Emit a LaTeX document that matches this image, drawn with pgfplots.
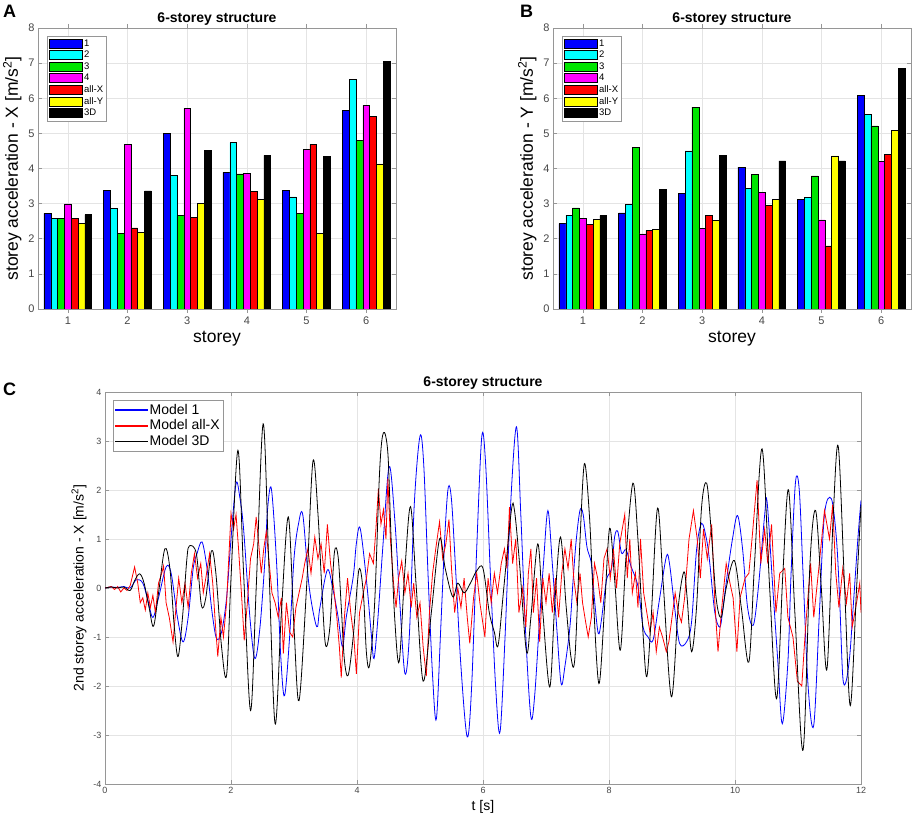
\documentclass[border=0pt]{standalone}
\usepackage{fontspec}
\setmainfont{Liberation Sans}
\usepackage{pgfplots}
\usepackage{pgfplotstable}
\pgfplotsset{compat=1.18}
\definecolor{tickgray}{RGB}{70,70,70}
\definecolor{boxgray}{RGB}{150,150,150}
\definecolor{gridgray}{RGB}{228,228,228}
\definecolor{mblue}{RGB}{0,0,255}
\definecolor{mcyan}{RGB}{0,255,255}
\definecolor{mgreen}{RGB}{0,230,0}
\definecolor{mmagenta}{RGB}{255,0,255}
\definecolor{mred}{RGB}{255,0,0}
\definecolor{myellow}{RGB}{255,255,0}

\pgfplotstableread{
storey s1 s2 s3 s4 allX allY D3
1 2.72 2.59 2.58 2.99 2.57 2.44 2.69
2 3.38 2.86 2.15 4.69 2.31 2.19 3.36
3 5.00 3.81 2.66 5.71 2.61 3.01 4.52
4 3.89 4.74 3.85 3.86 3.35 3.13 4.37
5 3.37 3.19 2.73 4.55 4.69 2.16 4.34
6 5.65 6.53 4.79 5.80 5.48 4.13 7.05
}\dataA
\pgfplotstableread{
storey s1 s2 s3 s4 allX allY D3
1 2.43 2.67 2.88 2.59 2.41 2.55 2.66
2 2.74 2.97 4.60 2.14 2.24 2.27 3.40
3 3.30 4.50 5.75 2.29 2.67 2.52 4.38
4 4.04 3.44 3.84 3.33 2.95 3.13 4.22
5 3.13 3.18 3.79 2.54 1.80 4.36 4.22
6 6.08 5.55 5.21 4.20 4.41 5.09 6.84
}\dataB

\pgfplotsset{
  mystyle/.style={
    scale only axis,
    axis line style={boxgray, line width=0.7pt},
    tick style={boxgray, line width=0.6pt},
    major tick length=4pt,
    tick align=inside,
    tick pos=both,
    grid=major,
    grid style={gridgray, line width=0.6pt},
    tick label style={tickgray},
    /pgf/number format/assume math mode=true,
    title style={font=\fontsize{14}{16}\selectfont\bfseries, yshift=-7pt},
  },
  barstyle/.style={
    mystyle,
    ybar=0pt, bar width=0.1143,
    xmin=0.5, xmax=6.5, ymin=0, ymax=8,
    xtick={1,...,6}, ytick={0,...,8},
    width=358pt, height=281pt,
    tick label style={font=\fontsize{11}{12}\selectfont},
    label style={font=\fontsize{17.5}{20}\selectfont},
    xlabel={storey},
    title={6-storey structure},
    legend style={at={(0.025,0.972)}, anchor=north west, draw=boxgray, fill=white,
      font=\fontsize{9.5}{10}\selectfont, inner sep=1.5pt, row sep=-0.6pt,
      legend cell align=left},
    every axis plot post/.append style={draw=black, line width=0.5pt,
      legend image code/.code={\draw[##1, line width=0.5pt] (0pt,-4.6pt) rectangle (33pt,4.6pt);}},
  },
}

\begin{document}
\begin{tikzpicture}
\useasboundingbox (0pt,0pt) rectangle (913pt,822pt);

% Panel A
\begin{axis}[barstyle, at={(38pt,513pt)}, anchor=south west,
  ylabel={storey acceleration - X [m/s\textsuperscript{2}]}]
\addplot[fill=mblue] table[x=storey,y=s1] {\dataA};
\addplot[fill=mcyan] table[x=storey,y=s2] {\dataA};
\addplot[fill=mgreen] table[x=storey,y=s3] {\dataA};
\addplot[fill=mmagenta] table[x=storey,y=s4] {\dataA};
\addplot[fill=mred] table[x=storey,y=allX] {\dataA};
\addplot[fill=myellow] table[x=storey,y=allY] {\dataA};
\addplot[fill=black] table[x=storey,y=D3] {\dataA};
\legend{1,2,3,4,all-X,all-Y,3D}
\end{axis}

% Panel B
\begin{axis}[barstyle, at={(553pt,513pt)}, anchor=south west,
  ylabel={storey acceleration - Y [m/s\textsuperscript{2}]}]
\addplot[fill=mblue] table[x=storey,y=s1] {\dataB};
\addplot[fill=mcyan] table[x=storey,y=s2] {\dataB};
\addplot[fill=mgreen] table[x=storey,y=s3] {\dataB};
\addplot[fill=mmagenta] table[x=storey,y=s4] {\dataB};
\addplot[fill=mred] table[x=storey,y=allX] {\dataB};
\addplot[fill=myellow] table[x=storey,y=allY] {\dataB};
\addplot[fill=black] table[x=storey,y=D3] {\dataB};
\legend{1,2,3,4,all-X,all-Y,3D}
\end{axis}

% Panel C
\begin{axis}[mystyle, at={(105pt,38pt)}, anchor=south west,
  width=756pt, height=392pt,
  xmin=0, xmax=12, ymin=-4, ymax=4,
  xtick={0,2,...,12}, ytick={-4,...,4},
  tick label style={font=\fontsize{9}{10}\selectfont},
  label style={font=\fontsize{14}{16}\selectfont},
  xlabel={t [s]},
  ylabel={2nd storey acceleration - X [m/s\textsuperscript{2}]},
  title={6-storey structure},
  legend style={at={(0.0106,0.98)}, anchor=north west, draw=boxgray, fill=white,
    font=\fontsize{14}{15}\selectfont, inner sep=2pt, row sep=0pt, legend cell align=left},
]
\addlegendimage{legend image code/.code={\fill[mblue] (0pt,-0.45pt) rectangle (32pt,0.45pt);}}
\addlegendentry{Model 1}
\addlegendimage{legend image code/.code={\fill[mred] (0pt,-0.45pt) rectangle (32pt,0.45pt);}}
\addlegendentry{Model all-X}
\addlegendimage{legend image code/.code={\fill[black] (0pt,-0.45pt) rectangle (32pt,0.45pt);}}
\addlegendentry{Model 3D}
\addplot[draw=mblue, line width=0.8pt, smooth, tension=0.55, forget plot] coordinates {
(0,0) (0.1,0.02) (0.2,0.01) (0.3,0.03) (0.4,0.0) (0.5,0.17) (0.6,0.1) (0.68,-0.25)
(0.76,-0.6) (0.85,-0.2) (0.97,0.43) (1.05,0.3) (1.15,-0.6) (1.24,-1.1) (1.32,-0.6)
(1.40,0.4) (1.46,0.7) (1.54,0.94) (1.62,0.4) (1.70,-0.5) (1.77,-1.03) (1.85,-0.9)
(1.93,-0.2) (2.0,1.0) (2.08,2.13) (2.14,1.85) (2.2,1.2) (2.3,-0.6) (2.38,-1.44)
(2.46,-0.8) (2.54,0.6) (2.58,1.6) (2.64,2.03) (2.72,0.6) (2.79,-1.4) (2.85,-2.2)
(2.93,-1.0) (3.0,0.6) (3.07,1.3) (3.14,1.49) (3.24,0.03) (3.36,-0.79) (3.41,-0.41)
(3.53,0.37) (3.62,-0.04) (3.70,-0.59) (3.77,-1.2) (3.83,-0.59) (3.94,0.23)
(3.99,0.91) (4.05,1.22) (4.15,0.16) (4.23,-0.99) (4.27,-1.44) (4.33,-0.65)
(4.41,0.84) (4.51,2.48) (4.6,1.39) (4.68,-0.31) (4.76,-1.74) (4.83,-0.99)
(4.91,1.73) (5.0,3.1) (5.06,2.5)
(5.13,0.2) (5.2,-1.8) (5.26,-2.67) (5.33,-0.8) (5.40,1.2) (5.45,2.06) (5.50,1.8)
(5.56,0.5) (5.65,-1.6) (5.75,-3.04) (5.82,-2.0) (5.9,0.8) (5.98,3.08) (6.04,2.57)
(6.12,0.2) (6.2,-2.0) (6.27,-2.94) (6.35,-1.0) (6.43,1.5) (6.53,3.29) (6.6,1.5)
(6.68,-1.0) (6.76,-2.63) (6.82,-2.2) (6.9,-0.6) (6.96,0.5) (7.03,1.58) (7.1,0.5)
(7.17,-0.8) (7.24,-1.95) (7.30,-1.6) (7.38,-0.79) (7.43,0.16) (7.48,0.98)
(7.54,1.59) (7.59,1.5) (7.65,0.84) (7.72,0.5) (7.77,-0.24) (7.83,-0.93) (7.88,-0.65)
(7.96,0.16) (8.04,0.4) (8.09,1.05) (8.14,1.15) (8.20,0.71) (8.27,0.78) (8.35,0.44)
(8.46,0.03) (8.54,-0.79) (8.62,-1.0) (8.70,-1.06) (8.80,-0.24) (8.91,0.64)
(8.96,0.5) (9.04,-0.38) (9.12,-1.13) (9.23,-1.1) (9.31,-0.7) (9.39,0.78)
(9.47,1.32) (9.55,0.98) (9.6,0.5) (9.68,-0.5) (9.76,-0.8) (9.81,-0.4)
(9.88,0.3) (9.96,1.0) (10.04,1.48) (10.12,0.8) (10.2,-0.4) (10.29,-0.76) (10.37,0.0)
(10.47,1.48) (10.51,1.75) (10.60,0.0) (10.68,-1.5) (10.75,-2.77) (10.84,-1.5)
(10.89,0.3) (10.96,2.16) (11.02,2.0) (11.08,0.3) (11.16,-2.0) (11.25,-2.8)
(11.34,-0.5) (11.42,1.5) (11.53,1.82) (11.61,1.0) (11.66,-0.2) (11.71,-1.8)
(11.76,-1.92) (11.82,-1.4) (11.87,-0.5) (11.95,1.0) (12.0,1.79)
};
\addplot[draw=mred, line width=0.8pt, forget plot] coordinates {
(0,0) (0.1,0.03) (0.15,-0.03) (0.2,0.03) (0.25,-0.08) (0.3,0.0) (0.35,-0.05) (0.4,0.05)
(0.47,0.43) (0.52,0.1) (0.56,-0.3) (0.6,-0.2) (0.64,-0.45) (0.68,-0.1) (0.72,-0.4)
(0.76,-0.15) (0.8,-0.5) (0.85,0.1) (0.9,0.3) (0.93,0.45) (0.97,-0.3) (1.02,-0.6)
(1.08,-1.1) (1.12,-0.5) (1.17,0.2) (1.22,-0.3) (1.27,0.1) (1.32,-0.4) (1.37,0.3)
(1.42,0.7) (1.47,0.2) (1.52,0.5) (1.56,-0.1) (1.6,0.2) (1.66,0.7) (1.71,0.1)
(1.75,-0.7) (1.79,-1.4) (1.84,-0.6) (1.88,-1.0) (1.93,-0.3) (2.0,1.52) (2.04,1.2)
(2.08,1.5) (2.12,0.8) (2.17,-0.2) (2.21,-1.07) (2.26,-0.3) (2.31,0.6) (2.36,0.9)
(2.40,1.45) (2.44,0.9) (2.48,0.3) (2.52,0.8) (2.56,1.15) (2.60,0.6) (2.65,-0.1)
(2.70,-0.3) (2.75,-0.6) (2.80,-0.2) (2.83,-1.34) (2.88,-0.3) (2.93,-0.9) (2.98,-1.0)
(3.03,-0.4) (3.08,-0.1) (3.13,0.2) (3.17,0.5) (3.22,0.8) (3.27,0.3) (3.33,1.04)
(3.38,0.6) (3.43,0.9) (3.48,0.3) (3.53,1.3) (3.58,0.5) (3.63,0.0) (3.68,-0.6)
(3.72,-1.2) (3.75,-1.83) (3.80,-0.6) (3.85,0.2) (3.9,-0.5) (3.95,-1.0) (3.99,-1.75)
(4.04,-0.5) (4.1,-0.1) (4.15,0.2) (4.2,0.7) (4.26,0.5) (4.30,1.2) (4.34,2.03)
(4.38,1.3) (4.42,1.6) (4.46,1.0) (4.49,2.23) (4.53,1.0) (4.58,0.1) (4.62,-0.4)
(4.66,0.2) (4.71,0.55) (4.76,-0.1) (4.81,0.3) (4.86,-0.4) (4.9,0.1) (4.95,-0.6)
(5.0,-0.3) (5.05,-1.2) (5.10,-1.8) (5.15,-0.5) (5.2,0.3) (5.25,0.8) (5.31,1.35)
(5.36,0.6) (5.41,0.9) (5.46,1.4) (5.5,0.4) (5.55,-0.5) (5.6,0.0) (5.65,-0.4)
(5.7,0.2) (5.75,-0.6) (5.79,-1.13) (5.85,-0.2) (5.9,0.3) (5.95,-0.3) (6.03,-1.0)
(6.08,0.2) (6.13,-0.3) (6.18,0.3) (6.23,-0.1) (6.29,0.5) (6.34,0.8) (6.38,0.4)
(6.42,1.65) (6.47,0.5) (6.52,1.0) (6.57,-0.5) (6.63,0.0) (6.68,-0.8) (6.72,0.3)
(6.76,0.8) (6.8,-0.5) (6.85,0.2) (6.9,-1.1) (6.95,0.2) (7.0,-0.3) (7.05,0.3)
(7.1,-0.5) (7.15,0.2) (7.2,-0.6) (7.25,0.3) (7.3,0.8) (7.35,0.4) (7.40,1.0)
(7.44,0.2) (7.49,-0.3) (7.54,0.3) (7.58,-0.3) (7.63,-0.7) (7.67,-1.0) (7.72,-0.6)
(7.77,0.5) (7.82,0.2) (7.87,-0.3) (7.92,0.6) (7.97,0.8) (8.02,0.2) (8.07,0.8)
(8.12,0.0) (8.17,0.9) (8.25,1.5) (8.29,0.2) (8.33,1.0) (8.37,-0.1) (8.42,0.3)
(8.46,-0.4) (8.5,1.0) (8.55,-0.1) (8.6,-0.5) (8.65,-0.9) (8.7,-0.5) (8.75,-1.3)
(8.8,-0.8) (8.85,-1.0) (8.91,-1.3) (8.95,-1.1) (9.0,-0.6) (9.05,-0.1) (9.1,-0.5)
(9.15,-0.7) (9.2,-0.2) (9.27,1.0) (9.34,1.58) (9.4,1.0) (9.45,0.2) (9.5,1.2)
(9.56,0.6) (9.63,1.3) (9.68,-0.3) (9.73,-1.3) (9.79,-0.4) (9.86,0.5) (9.92,0.1)
(9.97,-0.2) (10.03,-1.3) (10.08,-0.2) (10.16,0.2) (10.22,0.3) (10.27,1.0) (10.35,2.2)
(10.41,0.5) (10.47,1.2) (10.52,0.5) (10.58,1.3) (10.65,-0.5) (10.71,0.3) (10.79,0.4)
(10.84,-0.6) (10.92,-1.0) (10.99,-1.9) (11.06,-2.0) (11.12,-0.8) (11.2,0.5)
(11.25,-0.6) (11.33,0.4) (11.42,1.58) (11.5,1.0) (11.55,1.7) (11.6,0.3) (11.65,-0.4)
(11.71,0.4) (11.77,-0.3) (11.82,0.3) (11.86,-0.8) (11.93,-0.3) (11.98,0.1) (12.0,-0.5)
};
\addplot[draw=black, line width=0.8pt, smooth, tension=0.55, forget plot] coordinates {
(0,0) (0.1,0.02) (0.2,0.0) (0.3,0.02) (0.4,-0.05) (0.47,0.15) (0.55,0.29) (0.62,0.1)
(0.70,-0.4) (0.77,-0.78) (0.85,-0.1) (0.95,0.8) (1.03,0.4) (1.1,-0.8) (1.16,-1.4)
(1.23,-0.6) (1.30,0.6) (1.34,0.86) (1.45,0.7) (1.53,-0.35) (1.60,-0.2) (1.69,0.76)
(1.76,0.3) (1.85,-1.2) (1.93,-1.78) (2.0,0.2) (2.11,2.81) (2.2,0.3) (2.31,-2.5)
(2.4,0.0) (2.51,3.35) (2.6,0.5) (2.70,-2.77) (2.8,-0.5) (2.91,1.45) (3.0,-0.8)
(3.08,-2.3) (3.20,0.03) (3.30,2.58) (3.38,1.52) (3.44,0.03) (3.50,-1.16) (3.57,-0.79)
(3.64,0.71) (3.70,0.64) (3.75,-0.38) (3.80,-1.47) (3.86,-1.78) (3.94,-0.99)
(4.03,0.37) (4.10,-0.1) (4.15,-1.33) (4.20,-1.57) (4.28,-0.31) (4.36,2.41)
(4.42,3.17) (4.49,2.75) (4.54,1.05) (4.60,-0.65) (4.67,-1.5) (4.76,0.37)
(4.85,1.66) (4.94,0.03) (5.05,-1.9)
(5.18,-0.5) (5.31,1.0) (5.4,0.4) (5.52,-0.18) (5.6,0.1) (5.7,-0.1)
(5.8,0.1) (5.9,0.35) (6.0,0.4) (6.1,-0.5) (6.18,-0.9) (6.24,-1.17) (6.33,0.0)
(6.45,1.58) (6.5,1.58) (6.58,0.5) (6.69,-1.3) (6.76,-0.6) (6.87,0.9) (6.95,-0.5)
(7.06,-2.02) (7.14,-0.3) (7.23,1.04) (7.32,-0.38) (7.40,-1.44) (7.46,-1.4)
(7.54,0.98) (7.61,2.54) (7.69,1.46) (7.75,-0.18) (7.84,-1.95) (7.93,-0.38)
(8.01,1.22) (8.09,0.16) (8.18,-1.27) (8.27,0.64) (8.38,2.14) (8.46,0.98)
(8.54,-0.93) (8.60,-1.81) (8.67,-0.6) (8.77,1.63) (8.86,0.1) (8.99,-2.22)
(9.1,-0.38) (9.19,0.33) (9.24,-0.2) (9.31,-1.3) (9.39,-0.38) (9.47,1.66)
(9.55,2.14) (9.62,1.2) (9.70,-0.2) (9.78,-0.6) (9.86,0.0) (9.99,0.56) (10.1,-0.4) (10.22,-1.51)
(10.31,0.5) (10.43,2.84) (10.55,0.0) (10.66,-2.26) (10.76,0.3) (10.85,2.0)
(10.95,-0.5) (11.08,-3.31) (11.19,0.5) (11.28,1.58) (11.37,0.0) (11.46,-1.65)
(11.56,1.5) (11.64,2.88) (11.74,0.0) (11.83,-2.4) (11.93,0.0) (12.0,1.69)
};
\end{axis}

\node[font=\fontsize{18}{20}\selectfont\bfseries, anchor=north west, inner sep=0pt] at (3pt,817pt) {A};
\node[font=\fontsize{18}{20}\selectfont\bfseries, anchor=north west, inner sep=0pt] at (520pt,817pt) {B};
\node[font=\fontsize{18}{20}\selectfont\bfseries, anchor=north west, inner sep=0pt] at (3pt,439pt) {C};
\end{tikzpicture}
\end{document}
